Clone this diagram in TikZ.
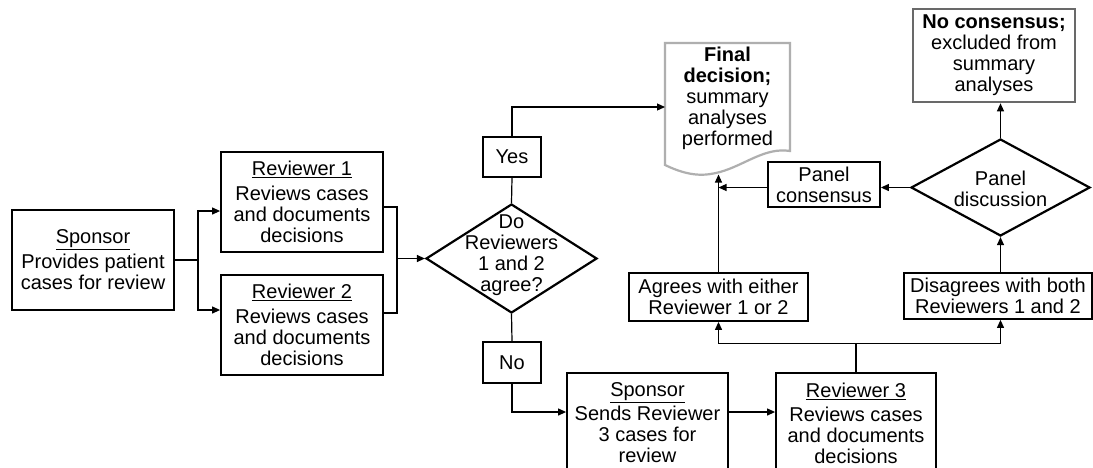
\documentclass[tikz,border=0pt]{standalone}
\usepackage{fontspec}
\setmainfont{Liberation Sans}
\usetikzlibrary{arrows.meta,shapes.geometric,calc}
\definecolor{docgray}{RGB}{175,175,175}
\definecolor{ncgray}{RGB}{105,105,105}
\begin{document}
\begin{tikzpicture}[x=1pt,y=-1pt,
  txt/.style={font=\fontsize{20}{21}\selectfont, align=center, inner sep=0pt},
  bx/.style={txt, draw, line width=1.8pt},
  dia/.style={draw, shape=diamond, line width=2.2pt, inner sep=0pt},
  ln/.style={line width=1.2pt},
  ar/.style={ln, -{Triangle[length=8pt,width=7pt]}}
]
\fill[white] (0,0) rectangle (1093,467);
\useasboundingbox (0,0) rectangle (1093,467);
\clip (0,0) rectangle (1093,467);

% boxes
\node[bx, minimum width=162pt, minimum height=100pt] (sp) at (93,260) {\underline{Sponsor}\\[4pt]Provides patient\\cases for review};
\node[bx, minimum width=162pt, minimum height=100pt] (r1) at (302,202) {\underline{Reviewer 1}\\[4pt]Reviews cases\\and documents\\decisions};
\node[bx, minimum width=162pt, minimum height=100pt] (r2) at (302,325) {\underline{Reviewer 2}\\[4pt]Reviews cases\\and documents\\decisions};
\node[bx, minimum width=58pt, minimum height=40pt] (yes) at (512,157) {Yes};
\node[bx, minimum width=58pt, minimum height=41pt] (no) at (512,362.5) {No};
\node[bx, minimum width=161pt, minimum height=100pt] (sp2) at (647.5,423) {\underline{Sponsor}\\[3pt]Sends Reviewer\\3 cases for\\review};
\node[bx, minimum width=160pt, minimum height=100pt] (r3) at (856,423) {\underline{Reviewer 3}\\[3pt]Reviews cases\\and documents\\decisions};
\node[bx, minimum width=179pt, minimum height=48pt] (agr) at (718.5,297) {Agrees with either\\Reviewer 1 or 2};
\node[bx, minimum width=188pt, minimum height=46pt] (dis) at (998,296) {Disagrees with both\\Reviewers 1 and 2};
\node[bx, minimum width=112pt, minimum height=45pt] (pc) at (824,184.5) {Panel\\consensus};
\node[bx, draw=ncgray, line width=2.6pt, minimum width=162pt, minimum height=93pt] (nc) at (994,55.5) {\textbf{No consensus;}\\excluded from\\summary\\analyses};

% diamonds
\node[dia, minimum width=171pt, minimum height=109pt] (d1) at (511.5,258.5) {};
\node[txt] (d1t) at (511.5,255) {Do\\Reviewers\\1 and 2\\agree?};
\node[dia, minimum width=179pt, minimum height=97pt] (d2) at (1000.5,187.5) {};
\node[txt] (d2t) at (1000.5,189) {Panel\\discussion};

% document shape
\draw[draw=docgray, line width=2.2pt, line join=miter] (665,43) -- (790,43) -- (790,151)
  .. controls (765,147) and (745,165) .. (720,172)
  .. controls (705,176) and (690,177) .. (665,165) -- cycle;
\node[txt] (fd) at (727.5,98) {\textbf{Final}\\\textbf{decision;}\\summary\\analyses\\performed};
\coordinate (fdl) at (665,107);
\coordinate (fdb) at (718.5,174.5);

% connectors
\coordinate (spj) at ($(sp.east)+(23,0)$);
\draw[ln] (sp.east) -- (spj);
\draw[ar] (spj) |- ($(r1.west)+(0,9)$);
\draw[ar] (spj) |- ($(r2.west)+(0,-15)$);
\coordinate (jn) at ($(d1.west)+(-28,0)$);
\draw[ln] ($(r1.east)+(0,5)$) -| (jn);
\draw[ln] ($(r2.east)+(0,-12)$) -| (jn);
\draw[ar] (jn) -- (d1.west);

\draw[ln] (d1.north) -- (yes.south);
\draw[ar] (yes.north) |- (fdl);

\draw[ln] (d1.south) -- (no.north);
\draw[ar] (no.south) |- ($(sp2.west)+(0,-11)$);
\draw[ar] ($(sp2.east)+(0,-11)$) -- ($(r3.west)+(0,-11)$);

\coordinate (rj) at ($(r3.north)+(0,-29)$);
\draw[ln] (r3.north) -- (rj);
\draw[ar] (rj) -| (agr.south);
\draw[ar] (rj) -| (dis.south -| d2.south);
\draw[ar] (dis.north -| d2.south) -- (d2.south);
\draw[ar] (d2.north) -- (nc.south -| d2.north);
\draw[ar] (d2.west) -- (d2.west -| pc.east);
\draw[ar] (pc.west |- d2.west) -- (d2.west -| agr.north);
\draw[ar] (agr.north) -- (fdb);
\end{tikzpicture}
\end{document}
